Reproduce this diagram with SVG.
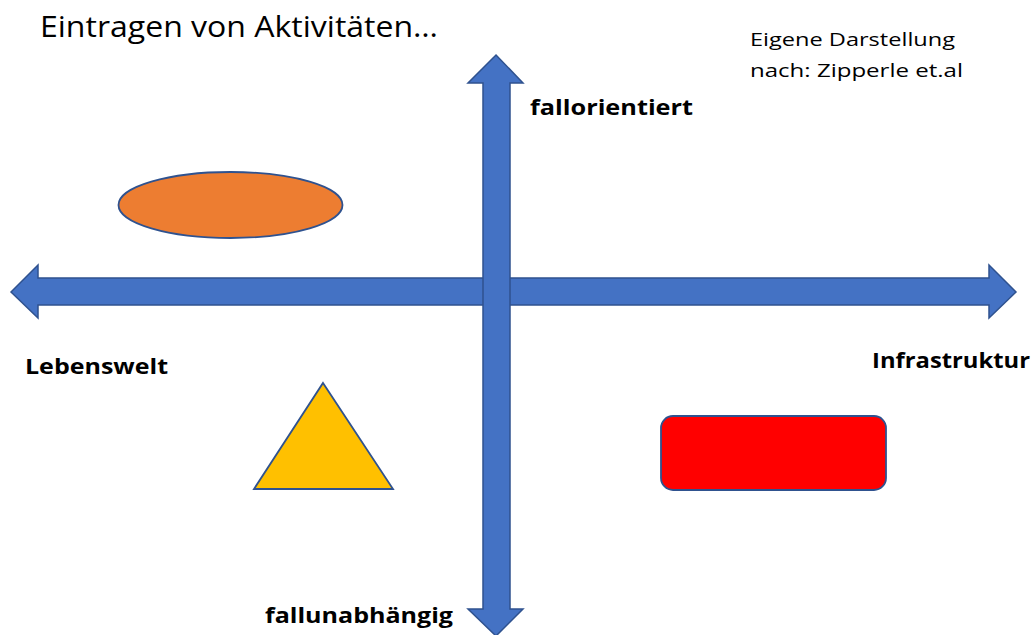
<svg xmlns="http://www.w3.org/2000/svg" width="1035" height="635" viewBox="0 0 1035 635">
<style>
.arrow{fill:#4472C4;stroke:#2F528F;stroke-width:1.5;stroke-linejoin:miter}
.shape{stroke:#2F528F;stroke-width:1.8}
.t{font-family:"Open Sans","Noto Sans","Liberation Sans",sans-serif;fill:#000}
.b{font-family:"Open Sans","Noto Sans","Liberation Sans",sans-serif;font-weight:bold;font-size:22px;fill:#000}
</style>
<rect width="1035" height="635" fill="#ffffff"/>
<g id="connectors">
<polygon class="arrow" points="11,292 38,265 38,278 989,278 989,265 1016,292 989,318 989,305 38,305 38,318"/>
<polygon class="arrow" points="496,55 523,83 510,83 510,609 523,609 496,636 468,609 483,609 483,83 468,83"/>
</g>
<g id="title"><text class="t" x="40" y="37" font-size="29" textLength="398" lengthAdjust="spacingAndGlyphs">Eintragen von Aktivitäten…</text></g>
<g id="source">
<text class="t" x="750" y="46" font-size="18" textLength="205" lengthAdjust="spacingAndGlyphs">Eigene Darstellung</text>
<text class="t" x="750" y="77" font-size="18" textLength="213" lengthAdjust="spacingAndGlyphs">nach: Zipperle et.al</text>
</g>
<g id="label-fallorientiert"><text class="b" x="530" y="115" textLength="163" lengthAdjust="spacingAndGlyphs">fallorientiert</text></g>
<g id="label-lebenswelt"><text class="b" x="25" y="374" textLength="143" lengthAdjust="spacingAndGlyphs">Lebenswelt</text></g>
<g id="label-infrastruktur"><text class="b" x="872" y="368" textLength="158" lengthAdjust="spacingAndGlyphs">Infrastruktur</text></g>
<g id="label-fallunabhaengig"><text class="b" x="265" y="623" textLength="188" lengthAdjust="spacingAndGlyphs">fallunabhängig</text></g>
<g id="ellipse"><ellipse class="shape" cx="230.5" cy="205" rx="112" ry="33" fill="#ED7D31"/></g>
<g id="triangle"><polygon class="shape" points="323,383 393,489 254,489" fill="#FFC000"/></g>
<g id="rectangle"><rect class="shape" x="661" y="416" width="225" height="74" rx="12" fill="#FF0000"/></g>
</svg>
